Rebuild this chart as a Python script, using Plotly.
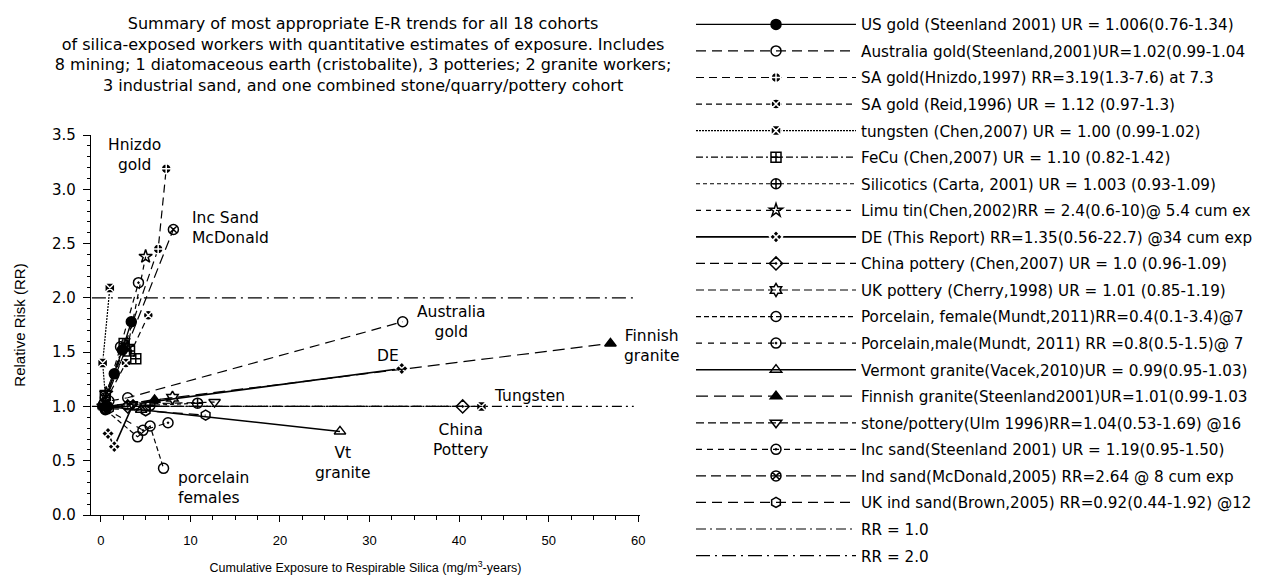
import plotly.graph_objects as go

# ---------------- data ----------------
legend_names = [
    "US gold (Steenland 2001) UR = 1.006(0.76-1.34)",
    "Australia gold(Steenland,2001)UR=1.02(0.99-1.04",
    "SA gold(Hnizdo,1997) RR=3.19(1.3-7.6) at 7.3",
    "SA gold (Reid,1996) UR = 1.12 (0.97-1.3)",
    "tungsten (Chen,2007) UR = 1.00 (0.99-1.02)",
    "FeCu (Chen,2007) UR = 1.10 (0.82-1.42)",
    "Silicotics (Carta, 2001) UR = 1.003 (0.93-1.09)",
    "Limu tin(Chen,2002)RR = 2.4(0.6-10)@ 5.4 cum ex",
    "DE (This Report) RR=1.35(0.56-22.7) @34 cum exp",
    "China pottery (Chen,2007) UR = 1.0 (0.96-1.09)",
    "UK pottery (Cherry,1998) UR = 1.01 (0.85-1.19)",
    "Porcelain, female(Mundt,2011)RR=0.4(0.1-3.4)@7",
    "Porcelain,male(Mundt, 2011) RR =0.8(0.5-1.5)@ 7",
    "Vermont granite(Vacek,2010)UR = 0.99(0.95-1.03)",
    "Finnish granite(Steenland2001)UR=1.01(0.99-1.03",
    "stone/pottery(Ulm 1996)RR=1.04(0.53-1.69) @16",
    "Inc sand(Steenland 2001) UR = 1.19(0.95-1.50)",
    "Ind sand(McDonald,2005) RR=2.64 @ 8 cum exp",
    "UK ind sand(Brown,2005) RR=0.92(0.44-1.92) @12",
    "RR = 1.0",
    "RR = 2.0",
]

us_gold_x = [0.3, 1.5, 2.4, 3.4]
us_gold_y = [1.02, 1.30, 1.52, 1.78]
aus_gold_x = [0.9, 3.0, 33.7]
aus_gold_y = [1.05, 1.08, 1.78]
hnizdo_x = [0.4, 6.4, 7.3]
hnizdo_y = [1.02, 2.45, 3.19]
reid_x = [0.6, 2.8, 5.3]
reid_y = [1.06, 1.40, 1.84]
tungsten_x = [1.0, 0.2, 0.6, 4.0, 42.5]
tungsten_y = [2.09, 1.40, 1.00, 1.00, 1.00]
fecu_x = [0.5, 2.6, 3.2, 3.9]
fecu_y = [1.10, 1.58, 1.51, 1.44]
silicotics_x = [0.7, 5.5, 10.8]
silicotics_y = [1.00, 1.01, 1.03]
limu_x = [0.6, 3.0, 5.0]
limu_y = [1.12, 1.55, 2.38]
de_x = [0.8, 1.5, 3.6, 33.6]
de_y = [0.75, 0.63, 1.02, 1.35]
china_pot_x = [0.4, 3.0, 40.4]
china_pot_y = [0.99, 1.00, 1.00]
uk_pot_x = [0.5, 8.0]
uk_pot_y = [1.00, 1.08]
porc_f_x = [0.5, 4.1, 5.5, 7.0]
porc_f_y = [0.97, 0.72, 0.82, 0.43]
porc_m_x = [0.5, 4.7, 7.5]
porc_m_y = [0.98, 0.78, 0.85]
vt_x = [0.3, 4.5, 26.7]
vt_y = [1.00, 0.97, 0.77]
finn_x = [0.6, 6.0, 56.9]
finn_y = [1.00, 1.06, 1.58]
ulm_x = [0.2, 3.5, 12.7]
ulm_y = [1.00, 1.02, 1.04]
inc_sand_x = [0.5, 2.2, 4.2]
inc_sand_y = [1.08, 1.55, 2.14]
mcd_x = [0.4, 8.1]
mcd_y = [1.03, 2.63]
brown_x = [0.9, 5.0, 11.7]
brown_y = [0.98, 0.96, 0.92]
ref_x = [-1.0, 59.5]
rr1_y = [1.0, 1.0]
rr2_y = [2.0, 2.0]

series_x = [us_gold_x, aus_gold_x, hnizdo_x, reid_x, tungsten_x, fecu_x,
            silicotics_x, limu_x, de_x, china_pot_x, uk_pot_x, porc_f_x,
            porc_m_x, vt_x, finn_x, ulm_x, inc_sand_x, mcd_x, brown_x,
            ref_x, ref_x]
series_y = [us_gold_y, aus_gold_y, hnizdo_y, reid_y, tungsten_y, fecu_y,
            silicotics_y, limu_y, de_y, china_pot_y, uk_pot_y, porc_f_y,
            porc_m_y, vt_y, finn_y, ulm_y, inc_sand_y, mcd_y, brown_y,
            rr1_y, rr2_y]

label_text = ["Hnizdo<br>gold", "Inc Sand<br>McDonald", "Australia<br>gold",
              "Finnish<br>granite", "DE", "Tungsten", "China<br>Pottery",
              "Vt<br>granite", "porcelain<br>females"]
label_x = [3.8, 10.0, 39.1, 61.5, 32.1, 47.9, 40.2, 27.0, 8.4]
label_y = [3.32, 2.64, 1.78, 1.56, 1.46, 1.10, 0.69, 0.48, 0.25]

x_range = [-1.1, 60.2]
y_range = [0, 3.5]

# ---------------- styles ----------------
dashes = ["solid", "10px,6px", "8px,5px", "6px,4px", "2px,1px", "7px,3px,2px,3px",
          "4px,3px", "5px,5px", "solid", "9px,5px", "8px,4px", "5px,3px",
          "6px,6px", "solid", "12px,6px", "8px,4px", "6px,5px", "10px,5px",
          "10px,6px", "10px,4px,2px,4px", "14px,5px,2px,5px"]
symbols = ["circle", "circle-open", "circle-cross", "circle-x", "square-x",
           "square-cross-open", "circle-cross-open", "star-open", "diamond-x",
           "diamond-open-dot", "hexagram-open", "circle-open", "circle-open-dot",
           "triangle-up-open", "triangle-up", "triangle-down-open",
           "circle-open-dot", "circle-x-open", "hexagon-open", None, None]
line_widths = [1.3, 1.2, 1.2, 1.2, 1.2, 1.2, 1.2, 1.2, 1.6, 1.2, 1.2, 1.2,
               1.2, 1.5, 1.2, 1.2, 1.2, 1.2, 1.2, 1.2, 1.2]
label_anchor = ["center", "left", "center", "center", "center", "center",
                "center", "center", "left"]

SANS = "Liberation Sans, Arial, sans-serif"
WIDE = "DejaVu Sans, Verdana, sans-serif"

# plot-area geometry in pixels
W, H = 1279, 578
ML = 83
px_left, px_right, px_top, px_bottom = 83, 632, 127, 507
gs_w = W - ML
x_dom = [(px_left - ML) / gs_w, (px_right - ML) / gs_w]
y_dom = [(H - px_bottom) / H, (H - px_top) / H]


def to_paper_x(v):
    return x_dom[0] + (v - x_range[0]) / (x_range[1] - x_range[0]) * (x_dom[1] - x_dom[0])


def to_paper_y(v):
    return y_dom[0] + (v - y_range[0]) / (y_range[1] - y_range[0]) * (y_dom[1] - y_dom[0])


fig = go.Figure()
for i, name in enumerate(legend_names):
    sym = symbols[i]
    mode = "lines+markers" if sym else "lines"
    filled = sym is not None and "open" not in sym
    marker = dict(symbol=sym, size=10, color="black",
                  line=dict(color="white" if filled and sym not in ("circle", "triangle-up") else "black",
                            width=1.5)) if sym else None
    fig.add_trace(go.Scatter(
        x=series_x[i], y=series_y[i], name=name, mode=mode,
        legendgroup="g%d" % i,
        line=dict(color="black", width=line_widths[i], dash=dashes[i]),
        marker=marker,
        cliponaxis=False,
    ))

for t, lx, ly, anc in zip(label_text, label_x, label_y, label_anchor):
    fig.add_annotation(x=to_paper_x(lx), y=to_paper_y(ly), xref="paper", yref="paper",
                       text=t, showarrow=False, xanchor=anc, yanchor="middle",
                       align=anc,
                       font=dict(size=15.5, color="black", family=WIDE))

title_text = ("Summary of most appropriate E-R trends for all 18 cohorts<br>"
              "of silica-exposed workers with quantitative estimates of exposure. Includes<br>"
              "8 mining; 1 diatomaceous earth (cristobalite), 3 potteries; 2 granite workers;<br>"
              "3 industrial sand, and one combined stone/quarry/pottery cohort")

fig.update_layout(
    template="none",
    width=W, height=H,
    margin=dict(l=ML, r=0, t=0, b=0, pad=0),
    paper_bgcolor="white", plot_bgcolor="white",
    font=dict(family=SANS, size=15, color="black"),
    title=dict(text=title_text, x=0.2776, xanchor="center", xref="container",
               y=0.964, yanchor="top", yref="container",
               font=dict(size=16, family=WIDE)),
    showlegend=True,
    legend=dict(x=(683 - ML) / gs_w, xanchor="left", y=1.0, yanchor="top",
                font=dict(size=15.2, family=WIDE), itemwidth=160, tracegroupgap=3.8,
                bgcolor="rgba(0,0,0,0)", borderwidth=0),
    xaxis=dict(domain=x_dom, range=x_range, tickvals=[0, 10, 20, 30, 40, 50, 60],
               automargin=False,
               showline=True, linecolor="black", linewidth=1.2, mirror=False,
               ticks="outside", ticklen=6, tickwidth=1, tickcolor="black",
               ticklabelstandoff=7, tickfont=dict(size=13, family=SANS),
               minor=dict(dtick=2.5, tick0=0, ticks="outside", ticklen=4, tickcolor="black"),
               showgrid=False, zeroline=False,
               title=dict(text="Cumulative Exposure to Respirable Silica (mg/m<sup>3</sup>-years)",
                          standoff=16, font=dict(size=12.5, family=SANS))),
    yaxis=dict(domain=y_dom, range=y_range, tickvals=[0, 0.5, 1.0, 1.5, 2.0, 2.5, 3.0, 3.5],
               ticktext=["0.0", "0.5", "1.0", "1.5", "2.0", "2.5", "3.0", "3.5"],
               automargin=False,
               showline=True, linecolor="black", linewidth=1.2, mirror=False,
               ticks="outside", ticklen=7, tickwidth=1, tickcolor="black",
               ticklabelstandoff=4, tickfont=dict(size=15, family=WIDE),
               minor=dict(dtick=0.1, tick0=0, ticks="outside", ticklen=3, tickcolor="black"),
               showgrid=False, zeroline=False,
               title=dict(text="Relative Risk (RR)", standoff=22, font=dict(size=15, family=SANS))),
)

fig.write_html("out.html")
